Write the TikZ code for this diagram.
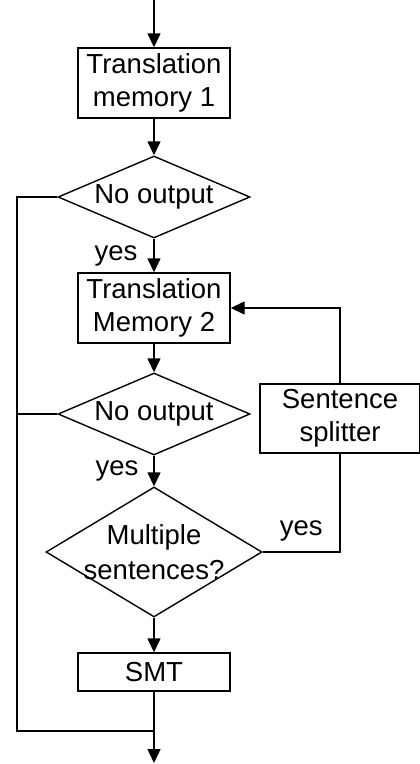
\documentclass[tikz,border=0pt]{standalone}
\usepackage{fontspec}
\setmainfont{Liberation Sans}
\usetikzlibrary{arrows.meta,shapes.geometric}

\begin{document}
\begin{tikzpicture}[x=1pt,y=-1pt,
  line width=1.4pt,
  every node/.style={font=\fontsize{27.5pt}{33pt}\selectfont},
  procbox/.style={draw, inner sep=0pt, align=center, minimum width=152pt},
  decision/.style={draw, diamond, inner sep=0pt},
  txt/.style={align=center, inner sep=0pt},
  flow/.style={-{Triangle[length=14pt,width=13pt]}}
]
\useasboundingbox (0,0) rectangle (420,764);

% process boxes
\node[procbox, minimum height=70pt] (tm1) at (154,83) {Translation\\memory 1};
\node[procbox, minimum height=70pt] (tm2) at (154,308) {Translation\\Memory 2};
\node[procbox, minimum height=38pt] (smt) at (154,672) {SMT};
\node[procbox, minimum width=160pt, minimum height=69pt] (split) at (340,418.5) {Sentence\\splitter};

% decisions
\node[decision, minimum width=192pt, minimum height=82pt,
      label={[txt]center:No output}] (d1) at (154,197) {};
\node[decision, minimum width=192pt, minimum height=82pt,
      label={[txt]center:No output}] (d2) at (154,414) {};
\node[decision, minimum width=216pt, minimum height=130pt,
      label={[txt,font=\fontsize{27.5pt}{35pt}\selectfont]center:Multiple\\sentences?}] (d3) at (154,552) {};

% free ends and corners
\coordinate (in) at (154,0);
\coordinate (out) at (154,763);
\coordinate (corner) at (17,731);
\coordinate (join) at (154,731);

% main flow
\draw[flow] (in) -- (tm1);
\draw[flow] (tm1) -- (d1);
\draw[flow] (d1) -- node[txt, pos=0.5, xshift=-38pt] {yes} (tm2);
\draw[flow] (tm2) -- (d2);
\draw[flow] (d2) -- node[txt, pos=0.5, xshift=-37pt] {yes} (d3);
\draw[flow] (d3) -- (smt);
\draw[flow] (smt) -- (out);

% bypass on the left
\draw (d1.west) -| (corner) -- (join);
\draw (d2.west) -- (d2.west -| corner);

% splitter loop
\draw (d3.east) -| node[txt, pos=0.25, yshift=21pt] {yes} (split.south);
\draw[flow] (split.north) |- (tm2.east);
\end{tikzpicture}
\end{document}
